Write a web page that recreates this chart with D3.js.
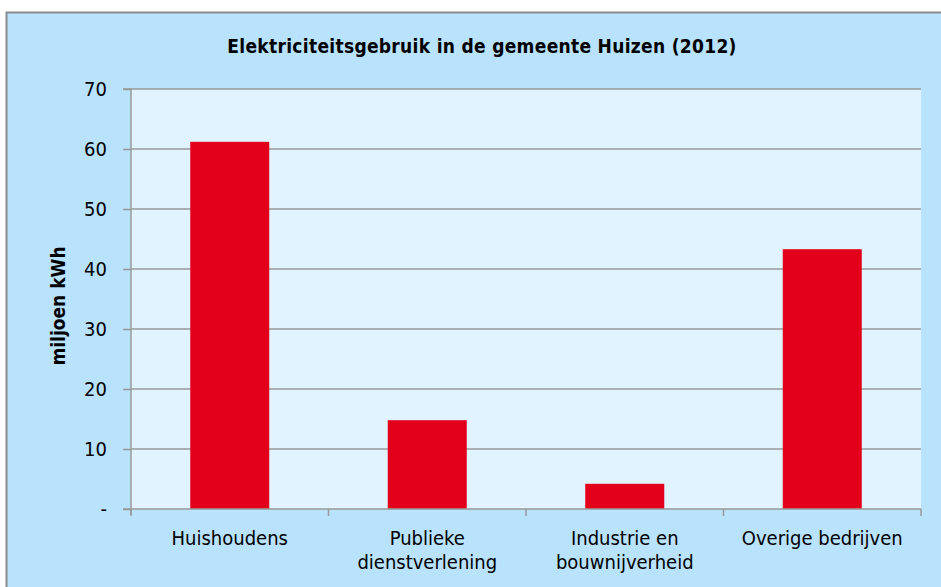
<!DOCTYPE html>
<html><head><meta charset="utf-8">
<script src="https://cdn.jsdelivr.net/npm/d3@7"></script>
<style>body{margin:0;background:#fff}svg{display:block}</style>
</head><body>
<svg id="c" width="941" height="587"></svg>
<script>
const categories = [["Huishoudens"], ["Publieke", "dienstverlening"], ["Industrie en", "bouwnijverheid"], ["Overige bedrijven"]];
const values = [61.2, 14.8, 4.2, 43.3];
const yTicks = [0, 10, 20, 30, 40, 50, 60, 70];
const yTickLabels = ["-", "10", "20", "30", "40", "50", "60", "70"];
const title = "Elektriciteitsgebruik in de gemeente Huizen (2012)";
const yTitle = "miljoen kWh";

const svg = d3.select("#c");
const font = "'DejaVu Sans Condensed', 'DejaVu Sans', sans-serif";
const m = {l: 131, t: 89, r: 921, b: 509};

svg.append("rect").attr("x", 6.5).attr("y", 12.5).attr("width", 950).attr("height", 600)
  .attr("fill", "#b9e3fc").attr("stroke", "#8c8c8c").attr("stroke-width", 2);
svg.append("rect").attr("x", m.l).attr("y", m.t).attr("width", m.r - m.l).attr("height", m.b - m.t)
  .attr("fill", "#e0f3fe");

const x = d3.scaleBand().domain(d3.range(categories.length)).range([m.l, m.r]).paddingInner(0.6).paddingOuter(0.3);
const xb = d3.scaleBand().domain(d3.range(categories.length)).range([m.l, m.r]);
const y = d3.scaleLinear().domain([0, 70]).range([m.b, m.t]);

// gridlines
svg.append("g").selectAll("line").data(yTicks.filter(d => d > 0)).join("line")
  .attr("x1", m.l).attr("x2", m.r).attr("y1", d => y(d)).attr("y2", d => y(d))
  .attr("stroke", "#999").attr("stroke-width", 1.5);

// bars
svg.append("g").selectAll("rect").data(values).join("rect")
  .attr("x", (d, i) => x(i)).attr("width", x.bandwidth())
  .attr("y", d => y(d)).attr("height", d => m.b - y(d))
  .attr("fill", "#e2001a");

// y axis
const ya = d3.axisLeft(y).tickValues(yTicks).tickFormat((d, i) => yTickLabels[i]).tickSize(8).tickPadding(16);
const yg = svg.append("g").attr("transform", `translate(${m.l},0)`).call(ya);
yg.select(".domain").attr("stroke", "#999").attr("stroke-width", 1.5).attr("d", `M-8,${m.t}H0V${m.b + 6}`);
yg.selectAll(".tick line").attr("stroke", "#999").attr("stroke-width", 1.5);
yg.selectAll("text").attr("font-family", font).attr("font-size", 20).attr("fill", "#000");

// x axis
const xg = svg.append("g");
xg.append("line").attr("x1", m.l - 8).attr("x2", m.r).attr("y1", m.b).attr("y2", m.b).attr("stroke", "#999").attr("stroke-width", 1.5);
xg.selectAll("line.t").data(d3.range(categories.length + 1)).join("line").attr("class", "t")
  .attr("x1", i => i < categories.length ? xb(i) : m.r).attr("x2", i => i < categories.length ? xb(i) : m.r)
  .attr("y1", m.b).attr("y2", m.b + 7).attr("stroke", "#999").attr("stroke-width", 1.5);
const xt = xg.selectAll("text").data(categories).join("text")
  .attr("font-family", font).attr("font-size", 20).attr("text-anchor", "middle")
  .attr("transform", (d, i) => `translate(${xb(i) + xb.bandwidth() / 2},${m.b + 36})`);
xt.selectAll("tspan").data(d => d).join("tspan").attr("x", 0).attr("dy", (d, j) => j ? 24 : 0).text(d => d);

svg.append("text").attr("x", 482).attr("y", 53).attr("text-anchor", "middle")
  .attr("font-family", font).attr("font-weight", "bold").attr("font-size", 19).attr("letter-spacing", 0.3).text(title);
svg.append("text").attr("transform", `translate(65,306) rotate(-90)`).attr("text-anchor", "middle")
  .attr("font-family", font).attr("font-weight", "bold").attr("font-size", 19).text(yTitle);
</script>
</body></html>
